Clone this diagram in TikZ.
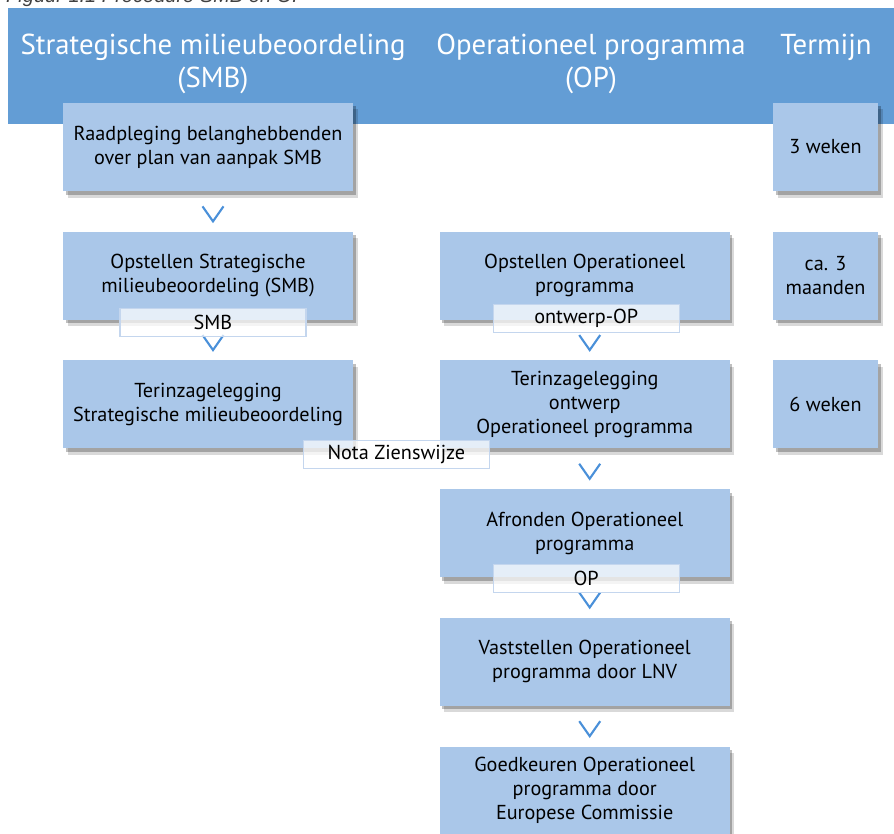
\documentclass[tikz,border=0pt]{standalone}
\usepackage{fontspec}
\setmainfont{PT Sans}
\newfontfamily\capfont{Liberation Sans}
\usepackage{tikz}
\usetikzlibrary{positioning,calc,shadows}
\definecolor{kopblauw}{RGB}{99,157,213}
\definecolor{stapblauw}{RGB}{170,199,233}
\definecolor{pijlblauw}{RGB}{74,144,217}
\definecolor{randblauw}{RGB}{196,214,238}
\tikzset{stap/.style={rectangle,fill=stapblauw,minimum width=5.8cm,minimum height=1.76cm,
		align=center,font=\fontsize{11.5}{13.8}\selectfont,inner sep=0pt,
		drop shadow={shadow xshift=.05cm,shadow yshift=-.07cm,fill=black,opacity=.25},
		drop shadow={shadow xshift=.09cm,shadow yshift=-.13cm,fill=black,opacity=.15}},
	 term/.style={stap,minimum width=2.1cm},
	 doc/.style={rectangle,draw=randblauw,line width=.6pt,fill=white,fill opacity=.7,text opacity=1,
		minimum width=3.72cm,minimum height=.56cm,inner sep=0pt,font=\fontsize{11.5}{13.8}\selectfont},
	 kop/.style={text=white,align=center,font=\fontsize{16.4}{18.7}\selectfont},
	 chev/.pic={\draw[pijlblauw,line width=1.2pt] (-.11,.1) -- (.1,-.2) -- (.31,.1);},
	 node distance = .8cm
	 }

\begin{document}
\begin{tikzpicture}
	\useasboundingbox (0,0) rectangle (17.88,-16.66);
	\node[anchor=base west,text=black!75,font=\capfont\itshape\fontsize{11.4}{13}\selectfont] (cap) at (0,-.06) {Figuur 1.1 Procedure SMB en OP};
	\fill[kopblauw] (.16,-.16) rectangle (17.88,-2.48);
	\node[kop] (k1) at (4.26,-1.27) {Strategische milieubeoordeling\\(SMB)};
	\node[kop] (k2) at (11.82,-1.27) {Operationeel programma\\(OP)};
	\node[kop] (k3) at (16.52,-.94) {Termijn};
	% SMB
	\node[stap] (a1) at (4.16,-2.94) {Raadpleging belanghebbenden\\over plan van aanpak SMB};
	\node[stap] (a2) [below=of a1] {Opstellen Strategische\\milieubeoordeling (SMB)};
	\node[stap] (a3) [below=of a2] {Terinzagelegging\\Strategische milieubeoordeling};
	% OP
	\node[stap] (b2) [right=1.72cm of a2] {Opstellen Operationeel\\programma};
	\node[stap] (b3) [below=of b2] {Terinzagelegging\\ontwerp\\Operationeel programma};
	\node[stap] (b4) [below=of b3] {Afronden Operationeel\\programma};
	\node[stap] (b5) [below=of b4] {Vaststellen Operationeel\\programma door LNV};
	\node[stap] (b6) [below=of b5] {Goedkeuren Operationeel\\programma door\\Europese Commissie};
	% termijn
	\node[term] (t1) at (16.51,-2.94) {3 weken};
	\node[term] (t2) [below=of t1] {ca. 3\\maanden};
	\node[term] (t3) [below=of t2] {6 weken};
	% pijlen
	\pic at ($(a1.south)!.5!(a2.north)$) {chev};
	\pic at ($(a2.south)!.5!(a3.north)$) {chev};
	\pic at ($(b2.south)!.5!(b3.north)$) {chev};
	\pic at ($(b3.south)!.5!(b4.north)$) {chev};
	\pic at ($(b4.south)!.5!(b5.north)$) {chev};
	\pic at ($(b5.south)!.5!(b6.north)$) {chev};
	% documenten
	\node[doc] (d1) at ([xshift=.1cm,yshift=-.04cm]a2.south) {SMB};
	\node[doc] (d2) at ([xshift=.03cm,yshift=.04cm]b2.south) {ontwerp-OP};
	\node[doc] (d3) at ([yshift=-.11cm]$(a3.south east)!.5!(b3.south west)$) {Nota Zienswijze};
	\node[doc] (d4) at ([xshift=.03cm,yshift=-.02cm]b4.south) {OP};
\end{tikzpicture}
\end{document}
